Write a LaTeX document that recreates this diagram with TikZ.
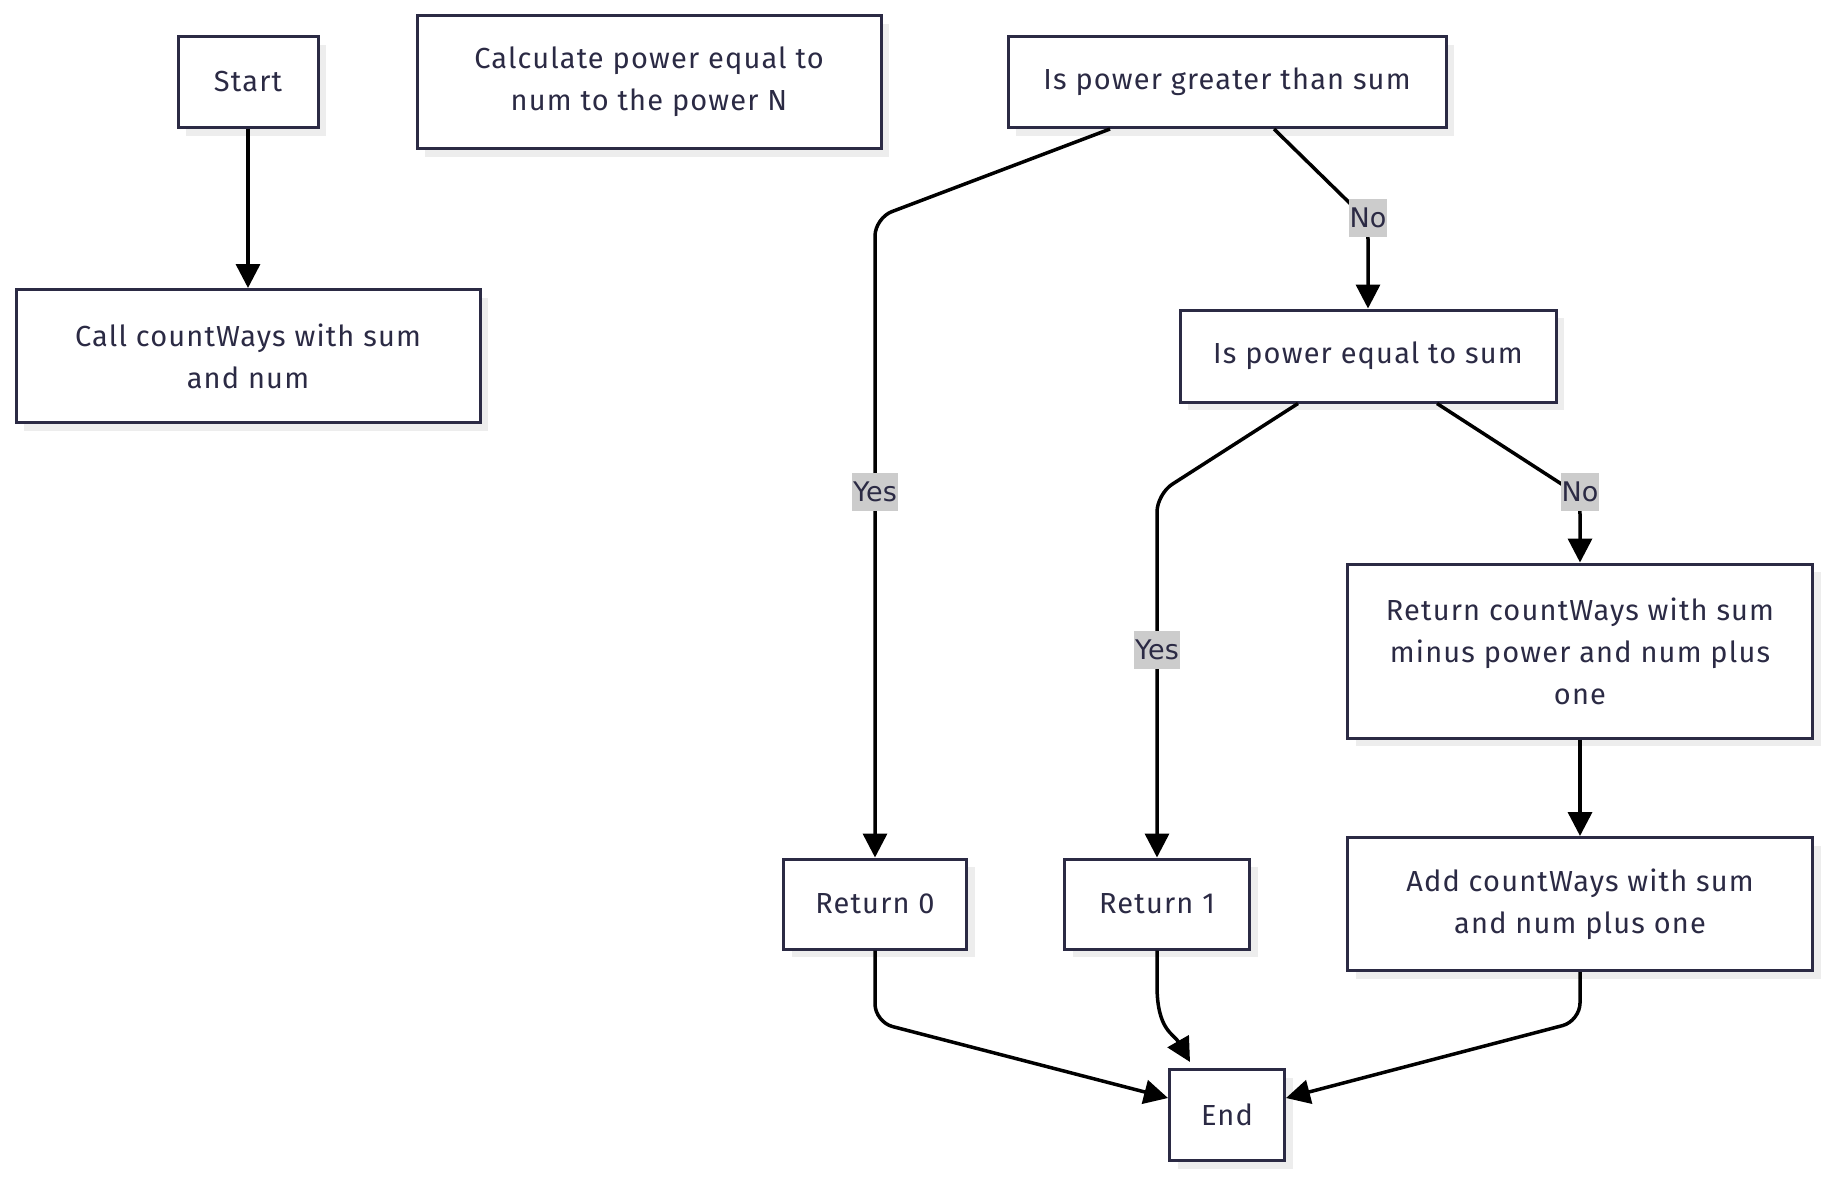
\documentclass[tikz,border=0pt]{standalone}
\usepackage{fontspec}
\setmainfont{Fira Sans}[LetterSpace=4]
\newfontfamily\lblfont{DejaVu Sans}
\usetikzlibrary{arrows.meta,shadows}
\definecolor{ink}{HTML}{2B2A44}
\definecolor{shade}{HTML}{EDEDED}
\definecolor{tagbg}{HTML}{CCCCCC}
\begin{document}
\begin{tikzpicture}[x=1pt,y=-1pt,
  box/.style={draw=ink,line width=3pt,fill=white,text=ink,align=center,
    inner sep=0pt,font=\fontsize{29}{42}\selectfont,
    drop shadow={shadow xshift=8pt,shadow yshift=-8pt,opacity=1,fill=shade}},
  flow/.style={draw=black,line width=3.5pt,rounded corners=18pt,
    -{Triangle[length=24pt,width=24pt]}},
  tag/.style={fill=tagbg,text=ink,inner xsep=1pt,inner ysep=9pt,font=\lblfont\fontsize{27}{30}\selectfont}]
\useasboundingbox (0,0) rectangle (1828,1176);

% process and decision boxes
\node[box,minimum width=140pt,minimum height=91pt] (start) at (248,82) {Start};
\node[box,minimum width=464pt,minimum height=133pt] (calc) at (649,82) {Calculate power equal to\\num to the power N};
\node[box,minimum width=438pt,minimum height=91pt] (gt) at (1227,82) {Is power greater than sum};
\node[box,minimum width=464pt,minimum height=133pt] (call) at (248,356) {Call countWays with sum\\and num};
\node[box,minimum width=376pt,minimum height=92pt] (eq) at (1368,356) {Is power equal to sum};
\node[box,minimum width=465pt,minimum height=174pt] (rec) at (1580,651) {Return countWays with sum\\minus power and num plus\\one};
\node[box,minimum width=465pt,minimum height=133pt] (add) at (1580,904) {Add countWays with sum\\and num plus one};
\node[box,minimum width=183pt,minimum height=90pt] (r0) at (875,904) {Return 0};
\node[box,minimum width=185pt,minimum height=90pt] (r1) at (1157,904) {Return 1};
\node[box,minimum width=115pt,minimum height=91pt] (end) at (1227,1115) {End};

% bend points of the connectors
\coordinate (gtyes) at (875,218);
\coordinate (gtno) at (1368,221);
\coordinate (eqyes) at (1157,494);
\coordinate (eqno) at (1580,496);
\coordinate (r0bend) at (875,1022);
\coordinate (addbend) at (1580,1021);

\draw[flow] (start) -- (call);
\draw[flow] ([xshift=-117pt]gt.south) -- (gtyes) -- (r0.north);
\draw[flow] ([xshift=47pt]gt.south) -- (gtno) -- (eq.north);
\draw[flow] ([xshift=-70pt]eq.south) -- (eqyes) -- (r1.north);
\draw[flow] ([xshift=69pt]eq.south) -- (eqno) -- (rec.north);
\draw[flow] (rec) -- (add);
\draw[flow] (r0.south) -- (r0bend) -- ([yshift=17pt]end.west);
\draw[flow,rounded corners=0pt] (r1.south) -- ++(0,35) .. controls ++(0,45) and ++(-16,-28) .. ([xshift=-37pt,yshift=6pt]end.north);
\draw[flow] (add.south) -- (addbend) -- ([yshift=17pt]end.east);

% edge labels
\node[tag] (lyes1) at (875,492) {Yes};
\node[tag] (lno1) at (1368,218) {No};
\node[tag] (lyes2) at (1157,650) {Yes};
\node[tag] (lno2) at (1580,492) {No};
\end{tikzpicture}
\end{document}
